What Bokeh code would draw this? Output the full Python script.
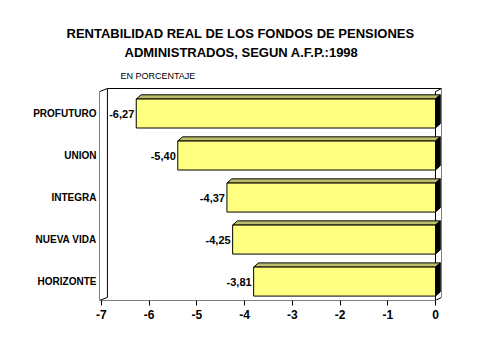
from bokeh.plotting import figure
from bokeh.models import Range1d, Label, ColumnDataSource, FixedTicker, Title
from bokeh.embed import file_html
from bokeh.resources import INLINE

# ---- data ----
afps = ["PROFUTURO", "UNION", "INTEGRA", "NUEVA VIDA", "HORIZONTE"]
rentabilidad = [-6.27, -5.40, -4.37, -4.25, -3.81]
x_ticks = [-7, -6, -5, -4, -3, -2, -1, 0]
title_lines = ["RENTABILIDAD REAL DE LOS FONDOS DE PENSIONES",
               "ADMINISTRADOS, SEGUN A.F.P.:1998"]
subtitle = "EN PORCENTAJE"

FONT = "Liberation Sans"
n = len(afps)
ypos = [n - 1 - i for i in range(n)]  # top to bottom

X0, X1 = -7.04, 0.126
Y0 = -0.45
YW = n - 0.5 + 0.095          # top of the back wall
YTOP = YW + 24 / 42            # frame top (room for subtitle)
DX, DY = 0.126, 0.075         # depth of the 3D wall (right)
DXL = 0.166                   # depth of the 3D wall (left)
BDX, BDY = 0.10, 0.10         # depth of bars
H = 0.345

p = figure(width=453, height=340, output_backend="svg", toolbar_location=None,
           title=None,
           x_range=Range1d(X0, X1), y_range=Range1d(Y0, YTOP),
           min_border_left=99, min_border_right=12, min_border_top=64,
           min_border_bottom=40)
p.outline_line_color = None
p.xgrid.visible = False
p.ygrid.visible = False
p.background_fill_color = "white"

# wall / floor lines
wall_lines = [
    ([X0, 0, DX], [Y0, Y0, Y0 + DY]),
    ([X0, X0, X0 + DXL], [Y0, YW - DY, YW]),
    ([X0, X0 + DXL], [Y0, Y0 + DY]),
    ([X0 + DXL, X0 + DXL, DX, DX], [Y0 + DY, YW, YW, Y0 + DY]),
    ([0, 0, DX], [Y0, YW - DY, YW]),
]
p.multi_line([l[0] for l in wall_lines], [l[1] for l in wall_lines],
             line_color="black", line_width=1)

# bars
src = ColumnDataSource(dict(
    y=ypos, v=rentabilidad,
    label=[f"{v:.2f}".replace(".", ",") for v in rentabilidad]))

top_xs, top_ys, side_xs, side_ys = [], [], [], []
for y, v in zip(ypos, rentabilidad):
    top_xs.append([v, 0, BDX, v + BDX])
    top_ys.append([y + H, y + H, y + H + BDY, y + H + BDY])
    side_xs.append([0, BDX, BDX, 0])
    side_ys.append([y - H, y - H + BDY, y + H + BDY, y + H])

p.patches(top_xs, top_ys, fill_color="#bdbd6b", line_color="black", line_width=1)
p.patches(side_xs, side_ys, fill_color="black", line_color="black", line_width=1)
p.hbar(y="y", left="v", right=0, height=2 * H, source=src,
       fill_color="#ffff80", line_color="black", line_width=1)

p.text(x="v", y="y", text="label", source=src, x_offset=-2,
       text_align="right", text_baseline="middle",
       text_font={"value": FONT}, text_font_size="11px", text_font_style="bold",
       text_color="black")

# axes
p.xaxis.ticker = FixedTicker(ticks=x_ticks)
p.xaxis.major_label_overrides = {t: str(t) for t in x_ticks}
p.xaxis.axis_line_color = None
p.xaxis.major_tick_in = 0
p.xaxis.major_tick_out = 5
p.xaxis.minor_tick_line_color = None
p.xaxis.major_label_standoff = 4
p.xaxis.major_label_text_font = FONT
p.xaxis.major_label_text_font_size = "12px"
p.xaxis.major_label_text_font_style = "bold"
p.xaxis.major_label_text_color = "black"

p.yaxis.ticker = FixedTicker(ticks=ypos)
p.yaxis.major_label_overrides = {y: a for y, a in zip(ypos, afps)}
p.yaxis.axis_line_color = None
p.yaxis.major_tick_line_color = None
p.yaxis.minor_tick_line_color = None
p.yaxis.major_tick_in = 0
p.yaxis.major_tick_out = 0
p.yaxis.major_label_standoff = 3
p.yaxis.major_label_text_font = FONT
p.yaxis.major_label_text_font_size = "10px"
p.yaxis.major_label_text_font_style = "bold"
p.yaxis.major_label_text_color = "black"

# titles (line 2 first: it sits closest to the plot)
p.add_layout(Title(text=title_lines[1], align="left", offset=25, standoff=10,
                   text_font=FONT, text_font_size="13px", text_font_style="bold",
                   text_color="black"), "above")
p.add_layout(Title(text=title_lines[0], align="left", offset=-33, standoff=-7,
                   text_font=FONT, text_font_size="13px", text_font_style="bold",
                   text_color="black"), "above")

p.add_layout(Label(x=-6.60, y=YW + 13 / 42, text=subtitle, text_align="left",
                   text_baseline="middle", text_font=FONT, text_font_size="9px",
                   text_color="black"))

open("out.html", "w").write(file_html(p, INLINE))
